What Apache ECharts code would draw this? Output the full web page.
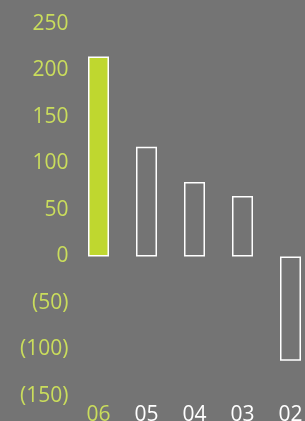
<!DOCTYPE html>
<html><head><meta charset="utf-8">
<script src="https://cdn.jsdelivr.net/npm/echarts@6/dist/echarts.min.js"></script>
<style>html,body{margin:0;padding:0;background:#747474;overflow:hidden;}#c{width:305px;height:421px;}</style>
</head><body><div id="c"></div>
<script>
var categories = ['06', '05', '04', '03', '02'];
var values = [215, 118, 80, 65, -112];
var highlightIndex = 0;
var yMin = -150, yMax = 250, yStep = 50;

var green = '#bfd72f';
var labelGreen = '#cadd5c';
var chart = echarts.init(document.getElementById('c'), null, {renderer: 'canvas'});
chart.setOption({
  backgroundColor: '#747474',
  animation: false,
  grid: {left: 74.5, top: 24, bottom: 25, right: -9.5, containLabel: false, outerBoundsMode: 'none'},
  xAxis: {
    type: 'category', data: categories,
    axisLine: {show: false}, axisTick: {show: false}, splitLine: {show: false},
    axisLabel: {
      margin: 9, fontFamily: 'Open Sans', fontSize: 21,
      color: function (v, i) { return i === highlightIndex ? labelGreen : '#ffffff'; }
    }
  },
  yAxis: {
    type: 'value', min: yMin, max: yMax, interval: yStep,
    axisLine: {show: false}, axisTick: {show: false}, splitLine: {show: false},
    axisLabel: {
      margin: 6, fontFamily: 'Open Sans', fontSize: 21, color: labelGreen,
      formatter: function (v) { return v < 0 ? '(' + (-v) + ')' : String(v); }
    }
  },
  series: [{
    type: 'bar', barWidth: 21,
    data: values.map(function (v, i) {
      return {value: v, itemStyle: {color: i === highlightIndex ? green : 'transparent', borderColor: '#ffffff', borderWidth: 1.5}};
    })
  }]
});
</script></body></html>
